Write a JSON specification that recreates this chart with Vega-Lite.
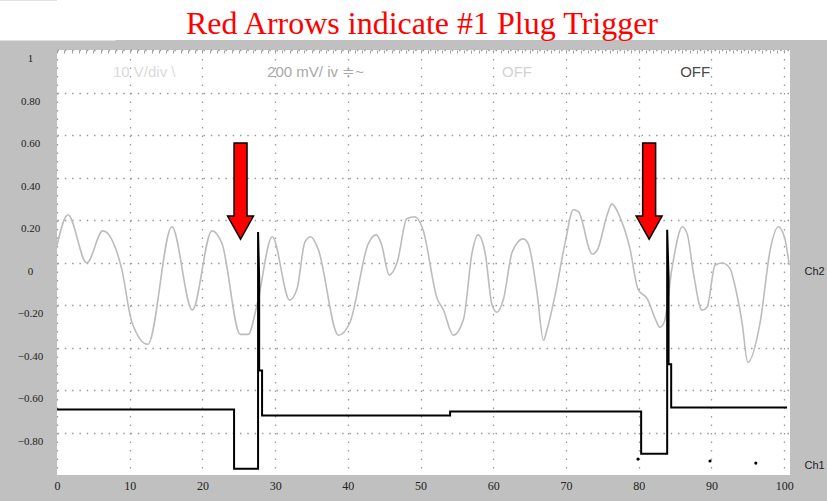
{
  "$schema": "https://vega.github.io/schema/vega-lite/v6.json",
  "background": "#c0c0c0",
  "padding": 0,
  "columns": 1,
  "spacing": 9,
  "bounds": "full",
  "datasets": {
    "ch2": [
      {"t": 0, "v": 0.12}, {"t": 1.5, "v": 0.265}, {"t": 4.1, "v": 0.038}, {"t": 6.3, "v": 0.189},
      {"t": 8.9, "v": 0.009}, {"t": 10.3, "v": -0.241}, {"t": 12.5, "v": -0.345}, {"t": 15.8, "v": 0.208},
      {"t": 18.6, "v": -0.184}, {"t": 21.3, "v": 0.189}, {"t": 22.7, "v": 0.128}, {"t": 25.2, "v": -0.298},
      {"t": 26.3, "v": -0.298}, {"t": 27.5, "v": -0.161}, {"t": 29.6, "v": 0.161}, {"t": 32.0, "v": -0.137},
      {"t": 33.0, "v": -0.085}, {"t": 34.1, "v": 0.137}, {"t": 34.9, "v": 0.161}, {"t": 35.9, "v": 0.104},
      {"t": 38.7, "v": -0.302}, {"t": 40.3, "v": -0.241}, {"t": 42.8, "v": 0.128}, {"t": 43.9, "v": 0.17},
      {"t": 44.6, "v": 0.128}, {"t": 45.7, "v": -0.019}, {"t": 46.8, "v": 0.043}, {"t": 48.1, "v": 0.246},
      {"t": 49.2, "v": 0.255}, {"t": 50.3, "v": 0.198}, {"t": 52.3, "v": -0.132}, {"t": 53.1, "v": -0.18},
      {"t": 54.5, "v": -0.302}, {"t": 55.9, "v": -0.227}, {"t": 57.1, "v": 0.09}, {"t": 57.9, "v": 0.17},
      {"t": 58.9, "v": 0.08}, {"t": 59.8, "v": -0.156}, {"t": 60.5, "v": -0.194}, {"t": 61.4, "v": -0.132},
      {"t": 62.6, "v": 0.09}, {"t": 64.1, "v": 0.151}, {"t": 64.8, "v": 0.128}, {"t": 66.0, "v": -0.099},
      {"t": 66.9, "v": -0.326}, {"t": 67.4, "v": -0.274}, {"t": 68.5, "v": -0.113}, {"t": 69.9, "v": 0.137},
      {"t": 71.0, "v": 0.288}, {"t": 71.7, "v": 0.279}, {"t": 73.6, "v": 0.08}, {"t": 74.3, "v": 0.099},
      {"t": 75.7, "v": 0.269}, {"t": 76.3, "v": 0.316}, {"t": 77.4, "v": 0.255}, {"t": 78.8, "v": 0.104},
      {"t": 79.9, "v": -0.085}, {"t": 81.2, "v": -0.132}, {"t": 82.3, "v": -0.227}, {"t": 82.9, "v": -0.265},
      {"t": 83.5, "v": -0.241}, {"t": 84.6, "v": 0.019}, {"t": 86.0, "v": 0.208}, {"t": 86.7, "v": 0.17},
      {"t": 87.5, "v": -0.005}, {"t": 88.7, "v": -0.184}, {"t": 89.4, "v": -0.17}, {"t": 90.5, "v": 0.028},
      {"t": 91.5, "v": 0.038}, {"t": 92.6, "v": 0.009}, {"t": 93.0, "v": -0.038}, {"t": 94.2, "v": -0.241},
      {"t": 95.0, "v": -0.43}, {"t": 96.7, "v": -0.241}, {"t": 98.1, "v": 0.104}, {"t": 99.2, "v": 0.208},
      {"t": 100.1, "v": 0.151}, {"t": 100.7, "v": 0.028}
    ],
    "ch1": [
      {"i": 1, "t": 0, "v": -0.652}, {"i": 2, "t": 24.35, "v": -0.652}, {"i": 3, "t": 24.35, "v": -0.931},
      {"i": 4, "t": 27.65, "v": -0.931}, {"i": 5, "t": 27.65, "v": 0.184}, {"i": 6, "t": 27.8, "v": -0.038},
      {"i": 7, "t": 27.8, "v": -0.468}, {"i": 8, "t": 28.2, "v": -0.468}, {"i": 9, "t": 28.2, "v": -0.68},
      {"i": 10, "t": 54.06, "v": -0.68}, {"i": 11, "t": 54.06, "v": -0.661}, {"i": 12, "t": 80.33, "v": -0.661},
      {"i": 13, "t": 80.33, "v": -0.86}, {"i": 14, "t": 83.91, "v": -0.86}, {"i": 15, "t": 83.91, "v": 0.194},
      {"i": 16, "t": 84.1, "v": -0.028}, {"i": 17, "t": 84.1, "v": -0.439}, {"i": 18, "t": 84.46, "v": -0.439},
      {"i": 19, "t": 84.46, "v": -0.642}, {"i": 20, "t": 100.4, "v": -0.642}
    ],
    "arrows": [{"t": 25.24, "v": 0.376}, {"t": 81.43, "v": 0.376}],
    "dots": [{"t": 79.9, "v": -0.885}, {"t": 89.8, "v": -0.894}, {"t": 96.1, "v": -0.904}],
    "notes": [
      {"t": 7.7, "v": 0.935, "note": "10 V/div   \\", "tone": "faint"},
      {"t": 28.9, "v": 0.935, "note": "200 mV/ iv  ≑~", "tone": "mid"},
      {"t": 61.2, "v": 0.935, "note": "OFF", "tone": "light"},
      {"t": 85.7, "v": 0.935, "note": "OFF", "tone": "dark"}
    ]
  },
  "concat": [
    {
      "width": 770,
      "height": 40,
      "view": {"fill": "white", "stroke": null},
      "data": {"values": [{"caption": "Red Arrows indicate #1 Plug Trigger"}]},
      "mark": {"type": "text", "font": "Liberation Serif", "fontSize": 32, "color": "#ff0000", "baseline": "alphabetic", "dy": 14, "dx": -20},
      "encoding": {
        "text": {"field": "caption"},
        "y": {"field": "caption", "type": "nominal",
          "axis": {"title": null, "labels": false, "ticks": false, "grid": false, "domain": true,
            "domainColor": "#ffffff", "domainWidth": 116, "domainCap": "butt", "minExtent": 57, "maxExtent": 57}}
      }
    },
    {
      "width": 733,
      "height": 425,
      "view": {"fill": "white", "stroke": null},
      "resolve": {"axis": {"x": "independent", "y": "independent"}},
      "layer": [
        {
          "data": {"name": "ch2"},
          "mark": {"type": "line", "color": "#bcbcbc", "strokeWidth": 1.6, "interpolate": "monotone"},
          "encoding": {
            "x": {"field": "t", "type": "quantitative", "scale": {"domain": [0, 100.8], "nice": false, "zero": false},
              "axis": {"orient": "bottom", "values": [0, 10, 20, 30, 40, 50, 60, 70, 80, 90, 100], "title": null,
                "domain": false, "ticks": false, "tickSize": 0, "labelPadding": 5, "labelFont": "Liberation Sans Narrow",
                "labelFontSize": 12, "labelColor": "#222", "grid": true, "gridColor": "#9a9a9a", "gridDash": [1.5, 7],
                "gridWidth": 1.3, "minExtent": 27, "maxExtent": 27, "labelFlush": false}},
            "y": {"field": "v", "type": "quantitative", "scale": {"domain": [-0.96, 1.04], "nice": false, "zero": false},
              "axis": {"orient": "left", "values": [1, 0.8, 0.6, 0.4, 0.2, 0, -0.2, -0.4, -0.6, -0.8, -1],
                "title": null, "domain": false, "ticks": false, "tickSize": 0, "labelPadding": 27, "labelAlign": "center",
                "labelFont": "Liberation Sans Narrow", "labelFontSize": 11, "labelColor": "#222",
                "labelExpr": "datum.value < -0.9 ? '' : (datum.value == 1 ? '1' : (abs(datum.value) < 0.001 ? '0' : format(datum.value, '.2f')))",
                "tickOffset": -8.5, "labelOffset": 8.5, "grid": true, "gridColor": "#9a9a9a", "gridDash": [1.5, 5.8],
                "gridWidth": 1.3, "minExtent": 57, "maxExtent": 57, "labelFlush": false}}
          }
        },
        {
          "data": {"name": "ch1"},
          "mark": {"type": "line", "color": "#000000", "strokeWidth": 2},
          "encoding": {
            "x": {"field": "t", "type": "quantitative", "scale": {"domain": [0, 100.8], "nice": false, "zero": false},
              "axis": {"orient": "top", "tickCount": 100, "title": null, "labels": false, "domain": false, "grid": false,
                "ticks": true, "tickSize": 3, "tickColor": "#a0a0a0", "offset": -3, "minExtent": 0, "maxExtent": 0}},
            "y": {"field": "v", "type": "quantitative", "scale": {"domain": [-0.96, 1.04], "nice": false, "zero": false},
              "axis": {"orient": "right", "values": [0, -0.913], "title": null, "domain": false, "ticks": false,
                "tickSize": 0, "grid": false, "labelPadding": 14, "labelAlign": "left", "labelFont": "Liberation Sans",
                "labelFontSize": 11, "labelColor": "#222", "labelExpr": "datum.value > -0.5 ? 'Ch2' : 'Ch1'",
                "minExtent": 37, "maxExtent": 37, "labelFlush": false}},
            "order": {"field": "i", "type": "quantitative"}
          }
        },
        {
          "data": {"name": "dots"},
          "mark": {"type": "point", "filled": true, "color": "#000000", "size": 10, "opacity": 1},
          "encoding": {
            "x": {"field": "t", "type": "quantitative", "scale": {"domain": [0, 100.8], "nice": false, "zero": false}, "axis": null},
            "y": {"field": "v", "type": "quantitative", "scale": {"domain": [-0.96, 1.04], "nice": false, "zero": false}, "axis": null}
          }
        },
        {
          "data": {"name": "notes"},
          "mark": {"type": "text", "align": "left", "baseline": "middle", "font": "Liberation Sans", "fontSize": 15},
          "encoding": {
            "x": {"field": "t", "type": "quantitative", "scale": {"domain": [0, 100.8], "nice": false, "zero": false}, "axis": null},
            "y": {"field": "v", "type": "quantitative", "scale": {"domain": [-0.96, 1.04], "nice": false, "zero": false}, "axis": null},
            "text": {"field": "note"},
            "color": {"field": "tone", "type": "nominal", "legend": null,
              "scale": {"domain": ["faint", "mid", "light", "dark"], "range": ["#dadada", "#a8a8a8", "#d2d2d2", "#4a4a4a"]}}
          }
        },
        {
          "data": {"name": "arrows"},
          "mark": {"type": "point", "shape": "M -0.135 -1 L 0.135 -1 L 0.135 0.52 L 0.27 0.52 L 0 1 L -0.27 0.52 L -0.135 0.52 Z",
            "size": 9216, "filled": true, "fill": "#ff0000", "stroke": "#000000", "strokeWidth": 1.5, "opacity": 1},
          "encoding": {
            "x": {"field": "t", "type": "quantitative", "scale": {"domain": [0, 100.8], "nice": false, "zero": false}, "axis": null},
            "y": {"field": "v", "type": "quantitative", "scale": {"domain": [-0.96, 1.04], "nice": false, "zero": false}, "axis": null}
          }
        }
      ]
    }
  ]
}
